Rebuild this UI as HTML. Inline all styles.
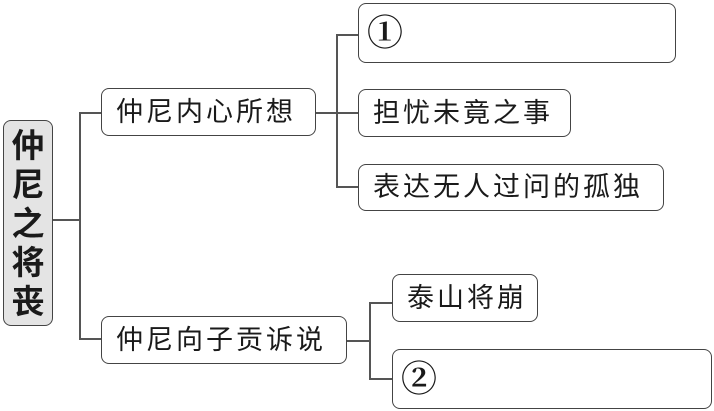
<!DOCTYPE html>
<html><head><meta charset="utf-8"><style>
body{margin:0;width:714px;height:411px;background:#fff;position:relative;overflow:hidden;font-family:"Liberation Sans","Noto Sans CJK SC",sans-serif;color:#1a1a1a}
.b{position:absolute;border:1.6px solid #444;border-radius:8px;box-sizing:border-box;font-size:27px;line-height:1;display:flex;align-items:center;padding-left:14px;letter-spacing:3px}
.l{position:absolute;background:#555}
.n{font-family:'Liberation Serif','Noto Serif CJK SC',serif;font-size:36px;padding-left:8px;font-weight:bold}
</style></head><body>
<div class="b" style="left:3px;top:120px;width:50px;height:206px;background:#e4e4e4;flex-direction:column;justify-content:center;padding:0;font-weight:bold;font-size:33px;line-height:39px;letter-spacing:0">
<div>仲</div><div>尼</div><div>之</div><div>将</div><div>丧</div></div>
<div class="l" style="left:53px;top:219px;width:27px;height:1.5px"></div>
<div class="l" style="left:79px;top:112px;width:1.5px;height:227px"></div>
<div class="l" style="left:79px;top:112px;width:22px;height:1.5px"></div>
<div class="l" style="left:79px;top:338px;width:22px;height:1.5px"></div>
<div class="b" style="left:101px;top:88px;width:215px;height:48px">仲尼内心所想</div>
<div class="b" style="left:101px;top:316px;width:246px;height:48px">仲尼向子贡诉说</div>
<div class="l" style="left:316px;top:112px;width:42px;height:1.5px"></div>
<div class="l" style="left:336px;top:34px;width:1.5px;height:153px"></div>
<div class="l" style="left:336px;top:34px;width:22px;height:1.5px"></div>
<div class="l" style="left:336px;top:186px;width:22px;height:1.5px"></div>
<div class="b n" style="left:358px;top:3px;width:318px;height:60px">①</div>
<div class="b" style="left:358px;top:89px;width:213px;height:48px">担忧未竟之事</div>
<div class="b" style="left:358px;top:164px;width:306px;height:47px">表达无人过问的孤独</div>
<div class="l" style="left:347px;top:340px;width:22px;height:1.5px"></div>
<div class="l" style="left:369px;top:302px;width:1.5px;height:77px"></div>
<div class="l" style="left:369px;top:302px;width:23px;height:1.5px"></div>
<div class="l" style="left:369px;top:378px;width:23px;height:1.5px"></div>
<div class="b" style="left:392px;top:274px;width:146px;height:48px">泰山将崩</div>
<div class="b n" style="left:392px;top:349px;width:320px;height:60px">②</div>
</body></html>
